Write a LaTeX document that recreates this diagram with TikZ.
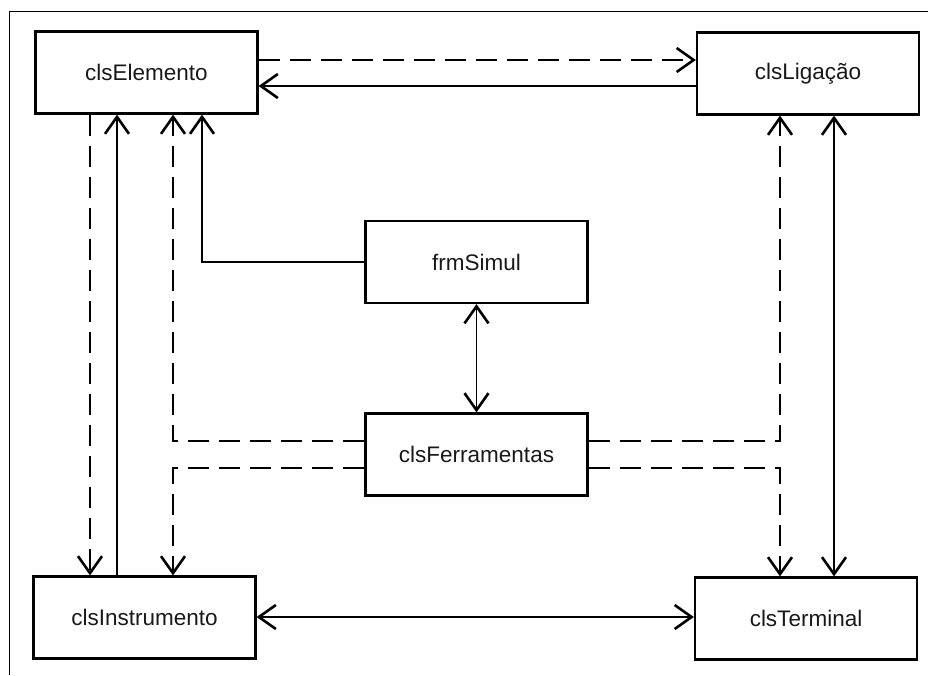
\documentclass[tikz,border=0pt]{standalone}
\usepackage{fontspec}
\setmainfont{Liberation Sans}
\usetikzlibrary{arrows.meta}
\tikzset{
  cls/.style={draw, line width=2.2pt, minimum width=222pt, minimum height=82pt,
    inner sep=0pt, font=\fontsize{22.5}{26}\selectfont, text=black!90},
  conn/.style={line width=1.8pt},
  dsh/.style={conn, dash pattern=on 21pt off 10pt},
  barb/.tip={Straight Barb[length=17pt,width=24pt,line width=2.6pt]},
  tip/.style={-barb},
  tips/.style={barb-barb}
}
\begin{document}
\begin{tikzpicture}[x=1pt,y=-1pt]
  \useasboundingbox (0,0) rectangle (928,675);
  % outer frame (partly cut by the page edge)
  \draw[line width=1pt] (9,675) -- (9,11) -- (928,11);

  % classes
  \node[cls] (E) at (146.5,72.5) {clsElemento};
  \node[cls] (L) at (808,73.5)   {clsLigação};
  \node[cls] (S) at (476.5,262)  {frmSimul};
  \node[cls] (F) at (476.5,454.5){clsFerramentas};
  \node[cls] (I) at (144.5,617.5){clsInstrumento};
  \node[cls] (T) at (806,618.5)  {clsTerminal};

  % clsElemento <-> clsLigacao
  \draw[dsh,tip] (E.east |- 0,60) -- (L.west |- 0,60);
  \draw[conn,tip] (L.west |- 0,86) -- (E.east |- 0,86);

  % clsElemento <-> clsInstrumento
  \draw[dsh,tip] (E.south -| 90,0) -- (I.north -| 90,0);
  \draw[conn,tip] (I.north -| 117,0) -- (E.south -| 117,0);

  % frmSimul
  \draw[conn,tip] (S.west) -| (E.south -| 202,0);
  \draw[conn,tips] (S.south) -- (F.north);

  % clsFerramentas dependencies
  \draw[dsh,tip] (F.west |- 0,441) -| (E.south -| 173,0);
  \draw[dsh,tip] (F.west |- 0,468) -| (I.north -| 173,0);
  \draw[dsh,tip] (F.east |- 0,441) -| (L.south -| 780,0);
  \draw[dsh,tip] (F.east |- 0,468) -| (T.north -| 780,0);

  % clsLigacao <-> clsTerminal, clsInstrumento <-> clsTerminal
  \draw[conn,tips] (L.south -| 834,0) -- (T.north -| 834,0);
  \draw[conn,tips] (I.east |- 0,617) -- (T.west |- 0,617);
\end{tikzpicture}
\end{document}
